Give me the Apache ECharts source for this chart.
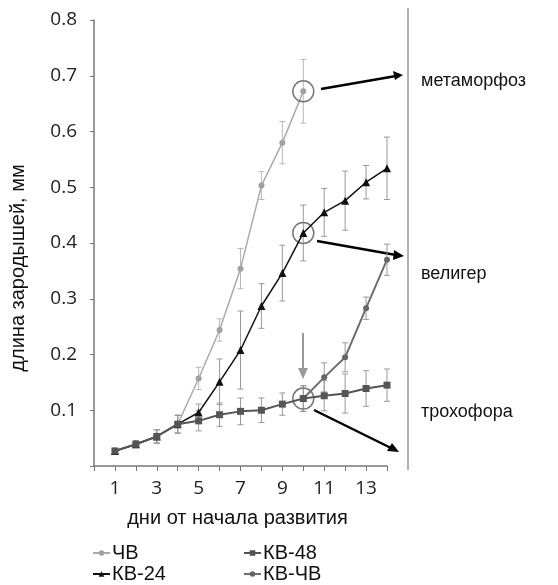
<!DOCTYPE html>
<html>
<head>
<meta charset="utf-8">
<script src="https://cdn.jsdelivr.net/npm/echarts@6/dist/echarts.min.js"></script>
<style>
  html, body { margin: 0; padding: 0; background: #fff; }
  #chart { width: 558px; height: 585px; }
</style>
</head>
<body>
<div id="chart"></div>
<script>
// дни наблюдения
const days = [1, 2, 3, 4, 5, 6, 7, 8, 9, 10, 11, 12, 13, 14]
const daysChv = [1, 2, 3, 4, 5, 6, 7, 8, 9, 10]
const daysKvChv = [10, 11, 12, 13, 14]

// средние значения, мм
const chv = [0.027, 0.039, 0.053, 0.075, 0.157, 0.244, 0.354, 0.503, 0.580, 0.672]
const kv24 = [0.027, 0.039, 0.053, 0.075, 0.096, 0.151, 0.208, 0.287, 0.346, 0.418, 0.455, 0.476, 0.509, 0.534]
const kv48 = [0.027, 0.039, 0.053, 0.075, 0.081, 0.092, 0.098, 0.100, 0.111, 0.121, 0.126, 0.130, 0.139, 0.145]
const kvChv = [0.121, 0.159, 0.195, 0.283, 0.370]

// погрешности (±)
const chvErr = [0.004, 0.006, 0.012, 0.016, 0.020, 0.020, 0.036, 0.025, 0.038, 0.057]
const kv24Err = [0.004, 0.006, 0.012, 0.016, 0.015, 0.041, 0.070, 0.040, 0.050, 0.050, 0.043, 0.053, 0.030, 0.056]
const kv48Err = [0.004, 0.006, 0.012, 0.016, 0.018, 0.021, 0.024, 0.022, 0.020, 0.023, 0.027, 0.035, 0.032, 0.029]
const kvChvErr = [0.023, 0.026, 0.026, 0.020, 0.028]

const xTicks = [1, 3, 5, 7, 9, 11, 13]
const errColors = ['#b8b8b8', '#999999']

function pairs(xs, ys) {
  return xs.map((x, i) => [x, ys[i]])
}
// [день, среднее, погрешность, индекс цвета]
function triples(xs, ys, es, c) {
  return xs.map((x, i) => [x, ys[i], es[i], c])
}

const errData = [].concat(
  triples(daysChv, chv, chvErr, 0),
  triples(days, kv48, kv48Err, 1),
  triples(days, kv24, kv24Err, 1),
  triples(daysKvChv, kvChv, kvChvErr, 1)
)

function ring(x, y) {
  return {
    coord: [x, y],
    symbol: 'circle',
    symbolSize: 21,
    itemStyle: { color: 'rgba(0,0,0,0)', borderColor: '#777', borderWidth: 1.5 },
    label: { show: false }
  }
}

const chart = echarts.init(document.getElementById('chart'))

const legendText = { fontSize: 20, color: '#111', fontFamily: 'Liberation Sans', padding: [0, 0, 0, -3] }

const option = {
  animation: false,
  textStyle: { fontFamily: 'Liberation Sans' },
  grid: { left: 92, right: 171, top: 20, bottom: 119 },
  xAxis: {
    type: 'value',
    min: 0,
    max: 14,
    interval: 1,
    name: 'дни от начала развития',
    nameLocation: 'middle',
    nameGap: 42,
    nameTextStyle: { fontSize: 20, color: '#111', fontFamily: 'Liberation Sans', padding: [0, 6, 0, 0] },
    axisLine: { onZero: false, lineStyle: { color: '#777', width: 1.5 } },
    axisTick: { show: true, length: 5, lineStyle: { color: '#777' } },
    axisLabel: {
      fontSize: 19,
      color: '#222',
      fontFamily: 'Open Sans',
      margin: 13,
      formatter: v => (xTicks.indexOf(v) >= 0 ? String(v) : '')
    },
    splitLine: { show: false }
  },
  yAxis: {
    type: 'value',
    min: 0,
    max: 0.8,
    interval: 0.1,
    name: 'длина зародышей, мм',
    nameLocation: 'middle',
    nameGap: 66,
    nameTextStyle: { fontSize: 20, color: '#111', fontFamily: 'Liberation Sans', padding: [0, 50, 0, 0] },
    axisLine: { show: true, lineStyle: { color: '#777', width: 1.5 } },
    axisTick: { show: true, length: 4, lineStyle: { color: '#777' } },
    axisLabel: {
      fontSize: 19,
      color: '#222',
      fontFamily: 'Open Sans',
      margin: 17,
      formatter: v => (v === 0 ? '' : v.toFixed(1))
    },
    splitLine: { show: false }
  },
  legend: [
    {
      orient: 'vertical',
      left: 92,
      top: 543,
      height: 60,
      padding: 0,
      itemGap: 1,
      itemWidth: 17,
      itemHeight: 7,
      textStyle: legendText,
      data: ['ЧВ', 'КВ-24']
    },
    {
      orient: 'vertical',
      left: 243,
      top: 543,
      height: 60,
      padding: 0,
      itemGap: 1,
      itemWidth: 17,
      itemHeight: 7,
      textStyle: legendText,
      data: ['КВ-48', 'КВ-ЧВ']
    }
  ],
  series: [
    {
      type: 'custom',
      name: 'погрешность',
      silent: true,
      z: 1,
      data: errData,
      renderItem(params, api) {
        const x = api.value(0)
        const y = api.value(1)
        const e = api.value(2)
        const top = api.coord([x, y + e])
        const bot = api.coord([x, y - e])
        const w = 3
        const style = { stroke: errColors[api.value(3)], lineWidth: 1 }
        return {
          type: 'group',
          children: [
            { type: 'line', shape: { x1: top[0], y1: top[1], x2: bot[0], y2: bot[1] }, style },
            { type: 'line', shape: { x1: top[0] - w, y1: top[1], x2: top[0] + w, y2: top[1] }, style },
            { type: 'line', shape: { x1: bot[0] - w, y1: bot[1], x2: bot[0] + w, y2: bot[1] }, style }
          ]
        }
      }
    },
    {
      name: 'ЧВ',
      type: 'line',
      z: 3,
      data: pairs(daysChv, chv),
      symbol: 'circle',
      symbolSize: 6,
      lineStyle: { color: '#aaa', width: 1.5 },
      itemStyle: { color: '#a0a0a0' },
      markPoint: { silent: true, data: [ring(10, chv[9])] }
    },
    {
      name: 'КВ-ЧВ',
      type: 'line',
      z: 4,
      data: pairs(daysKvChv, kvChv),
      symbol: 'circle',
      symbolSize: 6,
      lineStyle: { color: '#6e6e6e', width: 2 },
      itemStyle: { color: '#666' }
    },
    {
      name: 'КВ-24',
      type: 'line',
      z: 5,
      data: pairs(days, kv24),
      symbol: 'triangle',
      symbolSize: 8,
      lineStyle: { color: '#111', width: 1.5 },
      itemStyle: { color: '#111' },
      markPoint: { silent: true, data: [ring(10, kv24[9])] }
    },
    {
      name: 'КВ-48',
      type: 'line',
      z: 6,
      data: pairs(days, kv48),
      symbol: 'rect',
      symbolSize: 7,
      lineStyle: { color: '#555', width: 2 },
      itemStyle: { color: '#555' },
      markPoint: { silent: true, data: [ring(10, kv48[9])] }
    }
  ],
  graphic: [
    // правая вертикальная линия
    { type: 'line', shape: { x1: 408, y1: 8, x2: 408, y2: 470 }, style: { stroke: '#999', lineWidth: 1.5 } },
    // стрелки к стадиям
    { type: 'line', shape: { x1: 321, y1: 89, x2: 396, y2: 76 }, style: { stroke: '#000', lineWidth: 2.5 } },
    { type: 'polygon', shape: { points: [[403, 75], [393, 71], [395, 80]] }, style: { fill: '#000' } },
    { type: 'line', shape: { x1: 317, y1: 241, x2: 396, y2: 255 }, style: { stroke: '#000', lineWidth: 2.5 } },
    { type: 'polygon', shape: { points: [[404, 256], [394, 250], [393, 260]] }, style: { fill: '#000' } },
    { type: 'line', shape: { x1: 314, y1: 410, x2: 391, y2: 448 }, style: { stroke: '#000', lineWidth: 2.5 } },
    { type: 'polygon', shape: { points: [[399, 452], [392, 443], [387, 451]] }, style: { fill: '#000' } },
    // серая стрелка вниз
    { type: 'line', shape: { x1: 303, y1: 333, x2: 303, y2: 370 }, style: { stroke: '#999', lineWidth: 2 } },
    { type: 'polygon', shape: { points: [[303, 379], [298, 368], [308, 368]] }, style: { fill: '#999' } },
    // подписи стадий
    { type: 'text', left: 421, top: 72, style: { text: 'метаморфоз', fontSize: 18, fill: '#111', fontFamily: 'Liberation Sans' } },
    { type: 'text', left: 421, top: 265, style: { text: 'велигер', fontSize: 18, fill: '#111', fontFamily: 'Liberation Sans' } },
    { type: 'text', left: 421, top: 403, style: { text: 'трохофора', fontSize: 18, fill: '#111', fontFamily: 'Liberation Sans' } }
  ]
}

chart.setOption(option)
</script>
</body>
</html>
